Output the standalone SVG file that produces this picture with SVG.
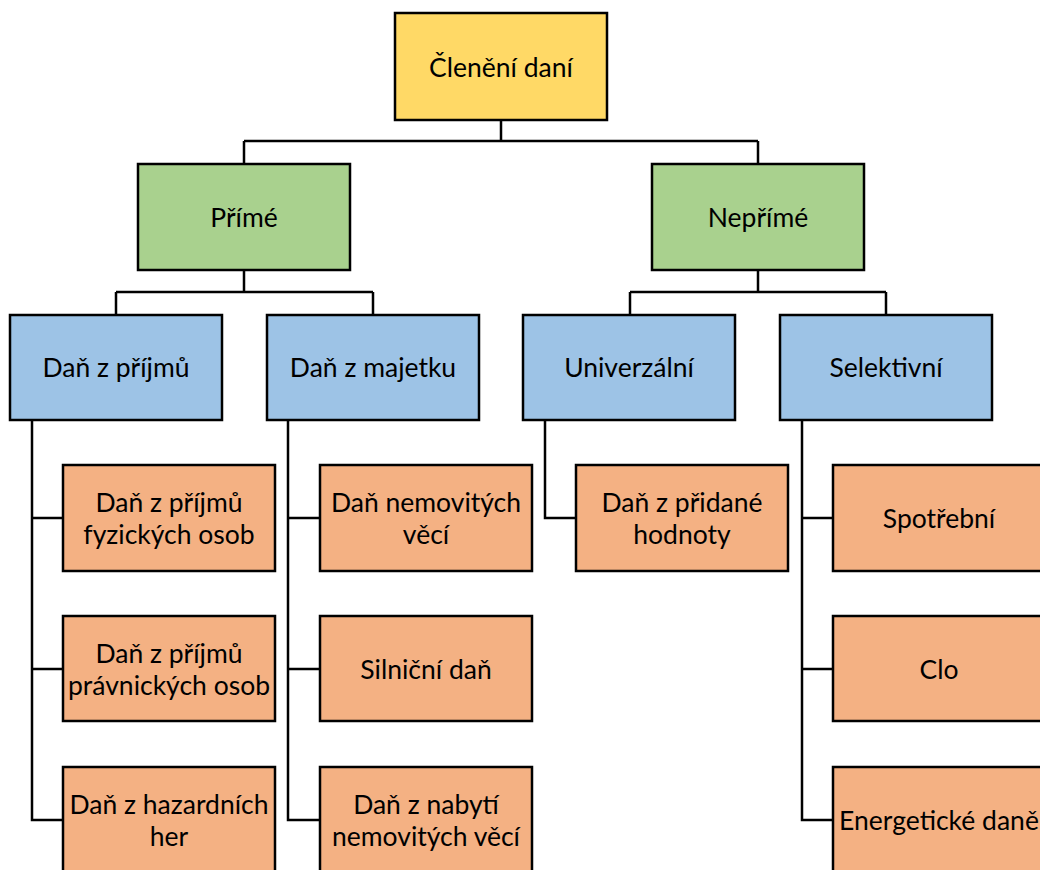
<svg xmlns="http://www.w3.org/2000/svg" width="1040" height="870" viewBox="0 0 1040 870">
<style>
.b{stroke:#000;stroke-width:2.5}
.y{fill:#FFD966}.g{fill:#A9D18E}.bl{fill:#9DC3E6}.o{fill:#F4B183}
text{font-family:Lato,"Noto Sans",sans-serif;font-size:26.5px;fill:#000;text-anchor:middle;dominant-baseline:central}
.c{fill:none;stroke:#000;stroke-width:2.5}
</style>
<rect width="1040" height="870" fill="#fff"/>
<g id="connectors" class="c">
<path d="M501 120V141M244 141H758M244 141V164M758 141V164"/>
<path d="M244 270V292M116 292H373M116 292V315M373 292V315"/>
<path d="M758 270V292M630 292H886M630 292V315M886 292V315"/>
<path d="M32 420V820H63M32 518H63M32 669H63"/>
<path d="M288 420V820H320M288 518H320M288 669H320"/>
<path d="M545 420V518H576"/>
<path d="M802 420V820H833M802 518H833M802 669H833"/>
</g>
<g id="root"><rect class="b y" x="395" y="13" width="212" height="107"/><text x="501" y="67">Členění daní</text></g>
<g id="prime"><rect class="b g" x="138" y="164" width="212" height="106"/><text x="244" y="217">Přímé</text></g>
<g id="neprime"><rect class="b g" x="652" y="164" width="212" height="106"/><text x="758" y="217">Nepřímé</text></g>
<g id="dan-z-prijmu"><rect class="b bl" x="10" y="315" width="212" height="105"/><text x="116" y="367">Daň z příjmů</text></g>
<g id="dan-z-majetku"><rect class="b bl" x="267" y="315" width="212" height="105"/><text x="373" y="367">Daň z majetku</text></g>
<g id="univerzalni"><rect class="b bl" x="523" y="315" width="212" height="105"/><text x="629" y="367">Univerzální</text></g>
<g id="selektivni"><rect class="b bl" x="780" y="315" width="212" height="105"/><text x="886" y="367">Selektivní</text></g>
<g id="dpfo"><rect class="b o" x="63" y="465" width="212" height="106"/><text x="169" y="502">Daň z příjmů</text><text x="169" y="534">fyzických osob</text></g>
<g id="dppo"><rect class="b o" x="63" y="616" width="212" height="105"/><text x="169" y="653">Daň z příjmů</text><text x="169" y="685">právnických osob</text></g>
<g id="hazard"><rect class="b o" x="63" y="767" width="212" height="110"/><text x="169" y="804">Daň z hazardních</text><text x="169" y="836">her</text></g>
<g id="nemovite"><rect class="b o" x="320" y="465" width="212" height="106"/><text x="426" y="502">Daň nemovitých</text><text x="426" y="534">věcí</text></g>
<g id="silnicni"><rect class="b o" x="320" y="616" width="212" height="105"/><text x="426" y="669">Silniční daň</text></g>
<g id="nabyti"><rect class="b o" x="320" y="767" width="212" height="110"/><text x="426" y="804">Daň z nabytí</text><text x="426" y="836">nemovitých věcí</text></g>
<g id="dph"><rect class="b o" x="576" y="465" width="212" height="106"/><text x="682" y="502">Daň z přidané</text><text x="682" y="534">hodnoty</text></g>
<g id="spotrebni"><rect class="b o" x="833" y="465" width="212" height="106"/><text x="939" y="518">Spotřební</text></g>
<g id="clo"><rect class="b o" x="833" y="616" width="212" height="105"/><text x="939" y="669">Clo</text></g>
<g id="energeticke"><rect class="b o" x="833" y="767" width="212" height="110"/><text x="939" y="820">Energetické daně</text></g>
</svg>
